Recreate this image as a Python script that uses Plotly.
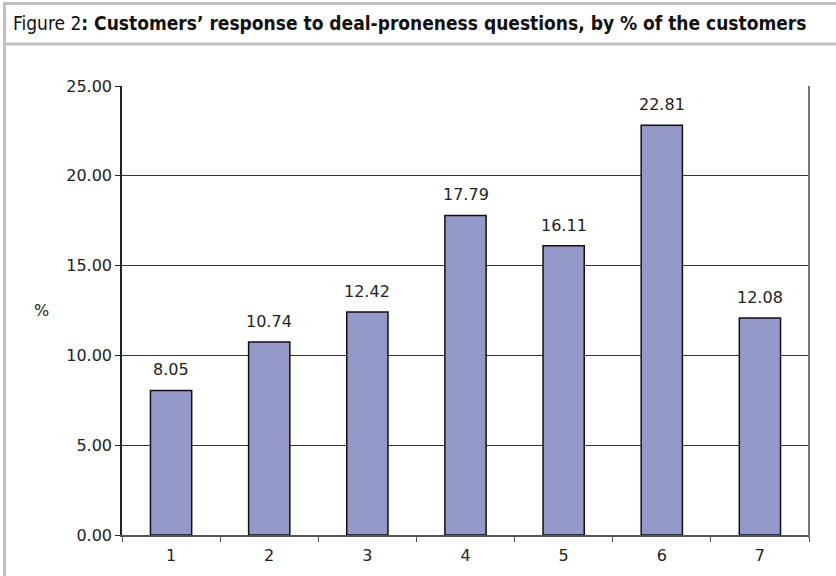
import plotly.graph_objects as go

categories = ["1", "2", "3", "4", "5", "6", "7"]
values = [8.05, 10.74, 12.42, 17.79, 16.11, 22.81, 12.08]
value_labels = ["8.05", "10.74", "12.42", "17.79", "16.11", "22.81", "12.08"]

W, H = 836, 576
L, R, T, B = 122, 809, 86, 535  # plot area in px


def X(px):
    return (px - L) / (R - L)


def Y(py):
    return (B - py) / (B - T)


FONT = "DejaVu Sans, Verdana, sans-serif"

fig = go.Figure(
    go.Bar(
        x=categories,
        y=values,
        marker=dict(color="#9499C9", line=dict(color="#111", width=1.5)),
        width=0.42,
        hoverinfo="x+y",
    )
)

border = "#c0c0c0"
shapes = [
    # outer frame
    dict(type="line", xref="paper", yref="paper", x0=X(3), x1=X(836), y0=Y(3.5), y1=Y(3.5),
         line=dict(color=border, width=3)),
    dict(type="line", xref="paper", yref="paper", x0=X(4.5), x1=X(4.5), y0=Y(2), y1=Y(576),
         line=dict(color=border, width=3)),
    dict(type="line", xref="paper", yref="paper", x0=X(3), x1=X(836), y0=Y(44), y1=Y(44),
         line=dict(color=border, width=3)),
    # right plot border
    dict(type="line", xref="paper", yref="paper", x0=1, x1=1, y0=Y(538), y1=1,
         line=dict(color="#777", width=2)),
]

annotations = [
    dict(
        text="Figure 2<b>: Customers’ response to deal-proneness questions, by % of the customers</b>",
        xref="paper", yref="paper", x=X(11), y=Y(23),
        xanchor="left", yanchor="middle", showarrow=False,
        font=dict(family="Liberation Sans Narrow, DejaVu Sans Condensed, Arial Narrow, sans-serif",
                  size=19, color="#111"),
    ),
    dict(
        text="%", xref="paper", yref="paper", x=X(41), y=Y(310),
        xanchor="center", yanchor="middle", showarrow=False,
        font=dict(family=FONT, size=16, color="#222"),
    ),
]
for i, (v, lab) in enumerate(zip(values, value_labels)):
    annotations.append(dict(
        x=i, y=v, xref="x", yref="y", text=lab, showarrow=False,
        xanchor="center", yanchor="bottom", yshift=9,
        font=dict(family=FONT, size=16, color="#222"),
    ))

fig.update_layout(
    width=W,
    height=H,
    margin=dict(l=L, r=W - R, t=T, b=H - B, pad=0),
    paper_bgcolor="white",
    plot_bgcolor="white",
    showlegend=False,
    font=dict(family=FONT, size=16, color="#222"),
    xaxis=dict(
        type="category",
        range=[-0.5, len(categories) - 0.5],
        tickson="boundaries",
        ticks="outside",
        ticklen=5,
        tickcolor="#555",
        ticklabelstandoff=5,
        showline=True,
        linecolor="#555",
        linewidth=1.5,
        showgrid=False,
        tickfont=dict(family=FONT, size=16, color="#222"),
    ),
    yaxis=dict(
        range=[0, 25],
        dtick=5,
        tickformat=".2f",
        ticks="outside",
        ticklen=5,
        tickcolor="#222",
        showline=True,
        linecolor="#222",
        linewidth=1.5,
        showgrid=True,
        gridcolor="#333",
        gridwidth=1,
        zeroline=False,
        tickfont=dict(family=FONT, size=16, color="#222"),
    ),
    shapes=shapes,
    annotations=annotations,
)

fig.write_html(
    "out.html",
    config={"displayModeBar": False},
    post_script="document.body.style.margin='0';document.body.style.overflow='hidden';",
)
